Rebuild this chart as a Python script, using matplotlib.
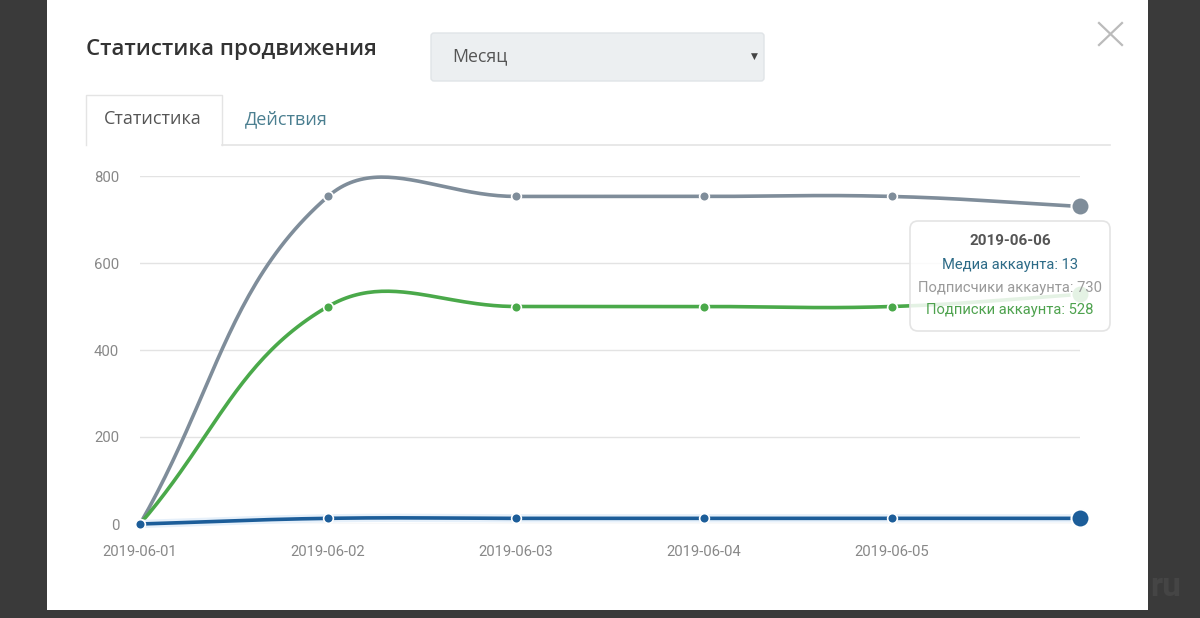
import numpy as np
import matplotlib
matplotlib.use("Agg")
import matplotlib.pyplot as plt
from matplotlib.patches import FancyBboxPatch, Rectangle

## Datos del grafico
dates       = ["2019-06-01", "2019-06-02", "2019-06-03", "2019-06-04", "2019-06-05", "2019-06-06"]
subscribers = [0, 753, 753, 753, 753, 730]   # Подписчики аккаунта
follows     = [0, 500, 500, 500, 500, 528]   # Подписки аккаунта
media       = [0, 13, 13, 13, 13, 13]        # Медиа аккаунта
yticks      = [0, 200, 400, 600, 800]

c_grey  = "#7f8d9a"
c_green = "#4aa94a"
c_blue  = "#1c5d99"
c_dark  = "#3a3a3a"

plt.rcParams['font.family'] = ['Roboto', 'DejaVu Sans']

W, H = 1200, 618
fig = plt.figure(figsize=(W/100, H/100), dpi=100)
fig.patch.set_facecolor(c_dark)

## fondo / modal en coordenadas de pixel
bg = fig.add_axes([0, 0, 1, 1])
bg.set_xlim(0, W); bg.set_ylim(H, 0); bg.axis('off')
bg.add_patch(Rectangle((47, 0), 1101, 610, facecolor="white", edgecolor="none"))
bg.text(1150, 587, "ru", color="#454545", fontsize=24, va="center", ha="left", fontweight="bold")

bg.text(86, 49, "Статистика продвижения", fontsize=16, color="#333333",
        family=["Open Sans", "DejaVu Sans"], fontweight="semibold", va="center")
bg.add_patch(FancyBboxPatch((431, 33), 333, 48, boxstyle="round,pad=0,rounding_size=3",
                            facecolor="#eceff1", edgecolor="#e0e4e7", linewidth=1))
bg.text(452, 56, "Месяц", fontsize=12.8, color="#555555", va="center",
        family=["Open Sans", "DejaVu Sans"])
bg.text(754, 56, "▼", fontsize=6.5, color="#444444", va="center", ha="center",
        family=["DejaVu Sans"])
bg.plot([1099, 1122], [23, 45], color="#bbbbbb", lw=1.6)
bg.plot([1099, 1122], [45, 23], color="#bbbbbb", lw=1.6)

## pestañas
bg.plot([86, 86, 222, 222], [145, 95, 95, 145], color="#e4e4e4", lw=1)
bg.plot([222, 1110], [145, 145], color="#e4e4e4", lw=1.2)
bg.text(104, 119, "Статистика", fontsize=13, color="#555555", va="center",
        family=["Open Sans", "DejaVu Sans"])
bg.text(245, 119, "Действия", fontsize=13, color="#4b7f90", va="center",
        family=["Open Sans", "DejaVu Sans"])

## ejes del grafico
x0, x1 = 140, 1080
y0, y1 = 524, 176
ax = fig.add_axes([x0/W, (H-y0)/H, (x1-x0)/W, (y0-y1)/H])
ax.set_xlim(0, len(dates)-1)
ax.set_ylim(0, 800)
ax.patch.set_alpha(0)
for s in ax.spines.values():
    s.set_visible(False)
ax.set_yticks(yticks)
ax.set_yticklabels([str(v) for v in yticks])
ax.set_xticks(range(len(dates)-1))
ax.set_xticklabels(dates[:-1])
ax.tick_params(length=0, colors="#888888", labelsize=10.7)
ax.tick_params(axis='y', pad=15)
ax.tick_params(axis='x', pad=15)
ax.grid(axis='y', color="#e3e3e3", lw=1)
ax.set_axisbelow(True)


def spline(vals, tension=0.4, n=50):
    # curva tipo chart.js, calculada en pixeles
    xi = np.arange(len(vals))
    P = ax.transData.transform(np.column_stack([xi, vals]))
    N = len(P)
    cp_prev = np.zeros_like(P); cp_next = np.zeros_like(P)
    for i in range(N):
        pr = P[i-1] if i > 0 else P[i]
        nx = P[i+1] if i < N-1 else P[i]
        d01 = np.hypot(*(P[i]-pr)); d12 = np.hypot(*(nx-P[i]))
        s01 = d01/(d01+d12); s12 = d12/(d01+d12)
        cp_prev[i] = P[i] - tension*s01*(nx-pr)
        cp_next[i] = P[i] + tension*s12*(nx-pr)
    pts = []
    t = np.linspace(0, 1, n)[:, None]
    for i in range(N-1):
        a, b, c, d = P[i], cp_next[i], cp_prev[i+1], P[i+1]
        pts.append((1-t)**3*a + 3*(1-t)**2*t*b + 3*(1-t)*t**2*c + t**3*d)
    pts = ax.transData.inverted().transform(np.vstack(pts))
    return pts[:, 0], pts[:, 1]


xi = np.arange(len(dates))
for vals, col in [(subscribers, c_grey), (follows, c_green), (media, c_blue)]:
    sx, sy = spline(vals)
    if col == c_blue:
        ax.plot(sx, sy, color="#e6f0fa", lw=6, clip_on=False, solid_capstyle="round")
    ax.plot(sx, sy, color=col, lw=2.6, clip_on=False)
    ax.plot(xi[:-1], vals[:-1], 'o', color=col, ms=7, mec="white", mew=1.2, clip_on=False)
    ax.plot(xi[-1:], vals[-1:], 'o', color=col, ms=13, mec="white", mew=1.5, clip_on=False)

## tooltip
ov = fig.add_axes([0, 0, 1, 1])
ov.set_xlim(0, W); ov.set_ylim(H, 0); ov.axis('off')
ov.add_patch(FancyBboxPatch((910, 221), 200, 110, boxstyle="round,pad=0,rounding_size=8",
                            facecolor=(1, 1, 1, 0.86), edgecolor="#e4e4e4", linewidth=1.2))
ov.text(1010, 241, dates[-1], fontsize=11, color="#555555", ha="center", va="center", fontweight="bold")
ov.text(1010, 265, "Медиа аккаунта: %d" % media[-1], fontsize=10.6, color="#2d6b87", ha="center", va="center")
ov.text(1010, 288, "Подписчики аккаунта: %d" % subscribers[-1], fontsize=10.6, color="#9a9a9a", ha="center", va="center")
ov.text(1010, 310, "Подписки аккаунта: %d" % follows[-1], fontsize=10.6, color="#4ea24e", ha="center", va="center")

fig.savefig("out.png", dpi=100, facecolor=fig.get_facecolor())
